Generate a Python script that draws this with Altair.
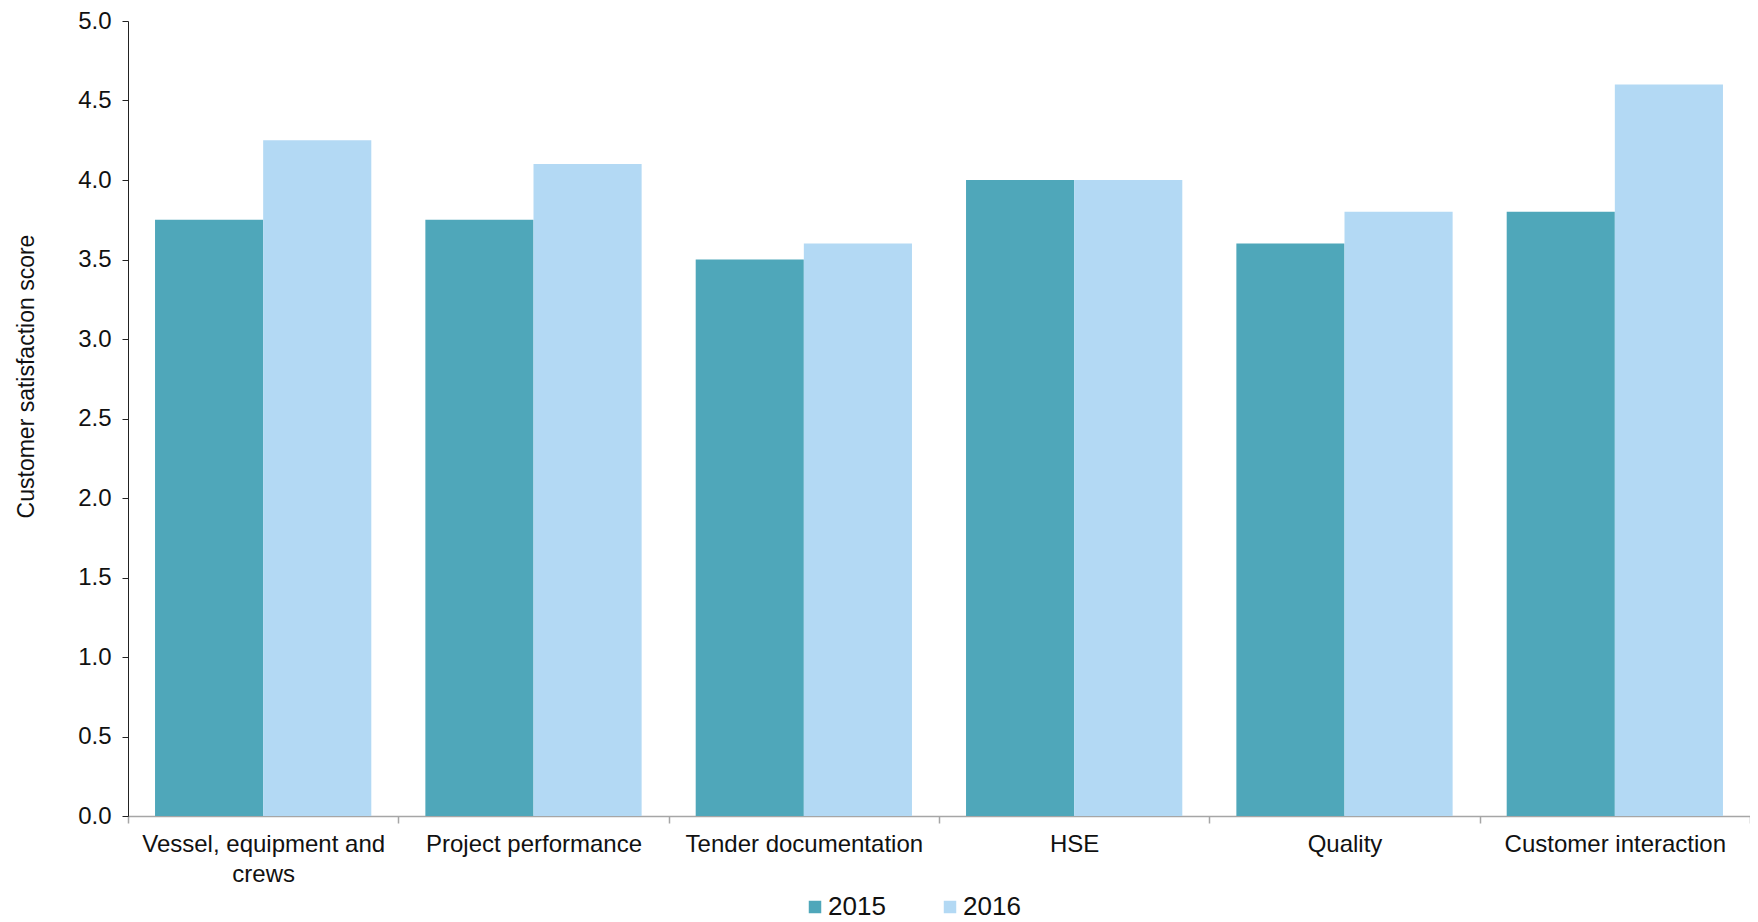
import altair as alt
import pandas as pd

categories = ["Vessel, equipment and crews", "Project performance", "Tender documentation",
              "HSE", "Quality", "Customer interaction"]
years = ["2015", "2016"]
values_2015 = [3.75, 3.75, 3.5, 4.0, 3.6, 3.8]
values_2016 = [4.25, 4.1, 3.6, 4.0, 3.8, 4.6]
y_ticks = [0.0, 0.5, 1.0, 1.5, 2.0, 2.5, 3.0, 3.5, 4.0, 4.5, 5.0]
colors = ["#4FA7BA", "#B3D9F4"]

rows = []
for c, a, b in zip(categories, values_2015, values_2016):
    rows.append({"category": c, "year": years[0], "score": a})
    rows.append({"category": c, "year": years[1], "score": b})
df = pd.DataFrame(rows)

FONT = "Liberation Sans"

chart = alt.Chart(df).mark_bar().encode(
    x=alt.X("category:N", sort=categories, title=None,
            scale=alt.Scale(paddingInner=0, paddingOuter=0),
            axis=alt.Axis(tickBand="extent", labelAngle=0, labelFontSize=24,
                          labelFont=FONT, labelColor="#111111", labelLimit=400,
                          labelPadding=9, labelLineHeight=30,
                          labelExpr="datum.label == 'Vessel, equipment and crews' ? ['Vessel, equipment and', 'crews'] : datum.label",
                          domainColor="#A6A6A6", tickColor="#A6A6A6", tickSize=7,
                          domainWidth=1.5, tickWidth=1.5, grid=False)),
    xOffset=alt.XOffset("year:N", sort=years,
                        scale=alt.Scale(paddingInner=0, paddingOuter=0.25)),
    y=alt.Y("score:Q", title="Customer satisfaction score",
            scale=alt.Scale(domain=[0, 5], nice=False),
            axis=alt.Axis(values=y_ticks, format=".1f", labelFontSize=24, labelFont=FONT,
                          labelColor="#111111", labelPadding=11, tickSize=6,
                          domainColor="#222222", tickColor="#222222", grid=False,
                          titleFont=FONT, titleFontSize=23, titleFontWeight="normal",
                          titleColor="#111111", titlePadding=39, titleY=355)),
    color=alt.Color("year:N", sort=years,
                    scale=alt.Scale(domain=years, range=colors),
                    legend=alt.Legend(title=None, orient="none", direction="horizontal",
                                      legendX=674, legendY=873,
                                      symbolType="square", symbolSize=156,
                                      symbolStrokeWidth=0, labelFontSize=26,
                                      labelFont=FONT, labelColor="#111111",
                                      labelOffset=0, columnPadding=51)),
).properties(
    width=1622, height=795,
    autosize=alt.AutoSizeParams(type="none"),
    padding={"left": 120, "top": 13, "right": 0, "bottom": 105},
).configure_view(stroke=None)

chart.save("out.html", embed_options={"renderer": "svg", "actions": False})
